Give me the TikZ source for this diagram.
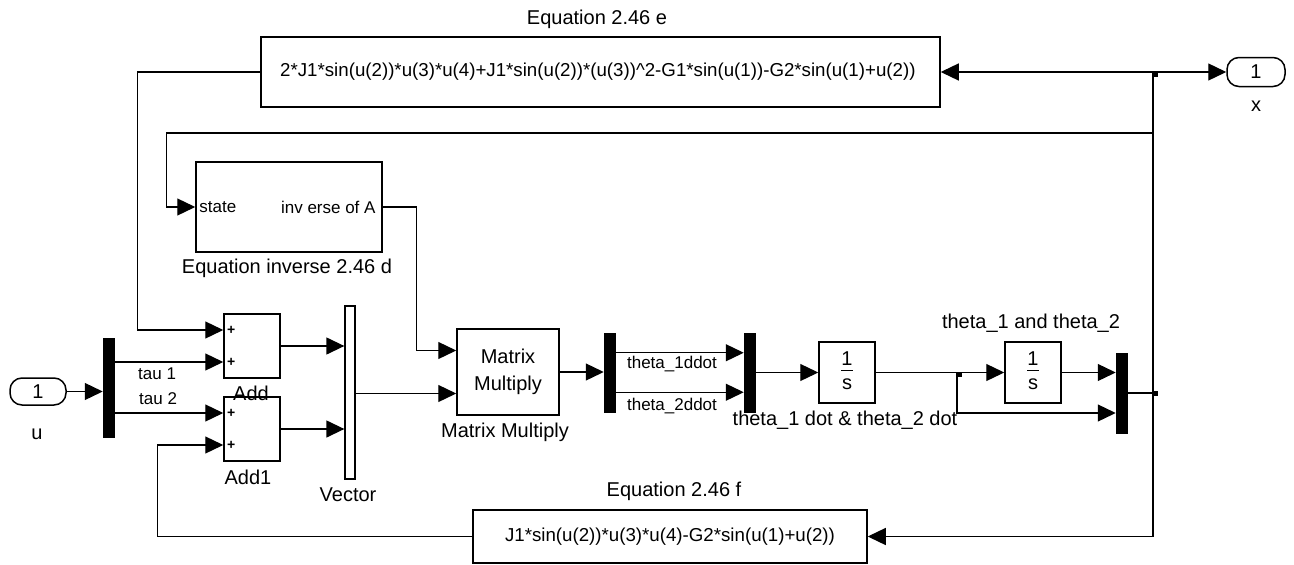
\documentclass[tikz,border=0pt]{standalone}
\usepackage{fontspec}
\setmainfont{Liberation Sans}
\usetikzlibrary{arrows.meta}
\begin{document}
\begin{tikzpicture}[x=1pt,y=-1pt,
  font=\fontsize{20}{25}\selectfont,
  blk/.style={draw, line width=1.5pt, fill=white, inner sep=0pt},
  bar/.style={fill=black, draw=black, line width=0.5pt, inner sep=0pt},
  wire/.style={line width=1.3pt},
  arr/.style={line width=1.3pt, -{Triangle[length=18pt,width=17pt]}},
  port/.style={draw, line width=1.5pt, rounded corners=12pt, inner sep=0pt},
  lbl/.style={inner sep=0pt},
  eqtxt/.style={inner sep=0pt, font=\fontsize{18.7}{22}\selectfont},
  small/.style={inner sep=0pt, font=\fontsize{17}{20}\selectfont},
  dotj/.style={fill=black, minimum size=5pt, inner sep=0pt}
]
\useasboundingbox (0,0) rectangle (1294,565);

% blocks
\node[blk, minimum width=679pt, minimum height=70pt] (eqE) at (600.5,72) {};
\node[eqtxt, anchor=west] (eqEtxt) at (280,72) {2*J1*sin(u(2))*u(3)*u(4)+J1*sin(u(2))*(u(3))\^{}2-G1*sin(u(1))-G2*sin(u(1)+u(2))};
\node[blk, minimum width=186pt, minimum height=90pt] (inv) at (289,207) {};
\node[small, anchor=west] (invst) at ([xshift=4pt]inv.west) {state};
\node[small, anchor=east] (invout) at ([xshift=-7pt]inv.east) {inv erse of A};
\node[blk, minimum width=56pt, minimum height=64pt] (add) at (252,346) {};
\node[blk, minimum width=56pt, minimum height=64pt] (add1) at (252,429) {};
\node[blk, minimum width=10pt, minimum height=173pt, line width=1.3pt] (vec) at (350,392.5) {};
\node[blk, minimum width=102pt, minimum height=86pt, align=center, font=\fontsize{20}{27}\selectfont] (mm) at (508,372) {Matrix\\Multiply};
\node[bar, minimum width=11pt, minimum height=99pt] (d1) at (108.5,387.5) {};
\node[bar, minimum width=11pt, minimum height=79pt] (d2) at (609.5,372.5) {};
\node[bar, minimum width=11pt, minimum height=79pt] (m2) at (749.5,372.5) {};
\node[blk, minimum width=56pt, minimum height=61pt] (i1) at (847,372.5) {};
\node[blk, minimum width=56pt, minimum height=61pt] (i2) at (1033,372.5) {};
\node[bar, minimum width=11pt, minimum height=80pt] (m3) at (1121.5,393) {};
\node[blk, minimum width=394pt, minimum height=53pt, font=\fontsize{18.7}{22}\selectfont] (eqF) at (670,536.5) {J1*sin(u(2))*u(3)*u(4)-G2*sin(u(1)+u(2))};
\node[port, minimum width=56pt, minimum height=27pt] (inU) at (38,391.5) {1};
\node[port, minimum width=58pt, minimum height=29pt] (outX) at (1256,72) {1};

% integrator contents
\node[lbl] (i1n) at ([yshift=14pt]i1.center) {1};
\node[lbl] (i1d) at ([yshift=-12pt]i1.center) {s};
\draw[line width=1.2pt] ([xshift=-6pt,yshift=2pt]i1.center) -- ([xshift=6pt,yshift=2pt]i1.center);
\node[lbl] (i2n) at ([yshift=14pt]i2.center) {1};
\node[lbl] (i2d) at ([yshift=-12pt]i2.center) {s};
\draw[line width=1.2pt] ([xshift=-6pt,yshift=2pt]i2.center) -- ([xshift=6pt,yshift=2pt]i2.center);

% port coordinates
\coordinate (a_i1) at ([yshift=16pt]add.west);
\coordinate (a_i2) at ([yshift=-16pt]add.west);
\coordinate (b_i1) at ([yshift=16pt]add1.west);
\coordinate (b_i2) at ([yshift=-16pt]add1.west);
\coordinate (mm_i1) at ([yshift=21.5pt]mm.west);
\coordinate (mm_i2) at ([yshift=-21.5pt]mm.west);
\coordinate (jT) at (1153,72);
\coordinate (jB) at (1153,133);
\coordinate (jI) at (957,372.5);

% plus signs
\node[lbl, font=\fontsize{14}{16}\selectfont\bfseries] (p1) at ([xshift=8pt]a_i1) {+};
\node[lbl, font=\fontsize{14}{16}\selectfont\bfseries] (p2) at ([xshift=8pt]a_i2) {+};
\node[lbl, font=\fontsize{14}{16}\selectfont\bfseries] (p3) at ([xshift=8pt]b_i1) {+};
\node[lbl, font=\fontsize{14}{16}\selectfont\bfseries] (p4) at ([xshift=8pt]b_i2) {+};

% labels
\node[lbl] (lE) at (597,19) {Equation 2.46 e};
\node[lbl] (lx) at (1256,106) {x};
\node[lbl] (lu) at (37,434) {u};
\node[lbl] (linv) at (287,268) {Equation inverse 2.46 d};
\node[small, anchor=west] (tau1) at (138,374) {tau 1};
\node[small, anchor=west] (tau2) at (139,399) {tau 2};
\node[lbl] (ladd) at (251,393) {Add};
\node[lbl] (ladd1) at (248,477) {Add1};
\node[lbl] (lvec) at (348,495) {Vector};
\node[lbl] (lmm) at (505,432) {Matrix Multiply};
\node[small] (t1dd) at (672,364) {theta\_1ddot};
\node[small] (t2dd) at (672,406) {theta\_2ddot};
\node[lbl] (lth) at (1031,323) {theta\_1 and theta\_2};
\node[lbl] (lthd) at (845,420) {theta\_1 dot \& theta\_2 dot};
\node[lbl] (lF) at (674,491) {Equation 2.46 f};

% wires
\draw[arr] (inU.east) -- (inU.east -| d1.west);
\draw[arr] (d1.east |- a_i2) -- (a_i2);
\draw[arr] (d1.east |- b_i1) -- (b_i1);
\draw[arr] (eqE.west) -| ([xshift=-86pt]a_i1) -- (a_i1);
\draw[arr] (eqF.west) -| ([xshift=-66pt]b_i2) -- (b_i2);
\draw[arr] (add.east) -- (add.east -| vec.west);
\draw[arr] (add1.east) -- (add1.east -| vec.west);
\draw[arr] (vec.east |- mm_i2) -- (mm_i2);
\draw[arr] (inv.east) -| ([xshift=-40pt]mm_i1) -- (mm_i1);
\draw[arr] (jB) -| ([xshift=-29pt]inv.west) -- (inv.west);
\draw[arr] (mm.east) -- (mm.east -| d2.west);
\draw[arr] ([yshift=19.75pt]d2.east) -- ([yshift=19.75pt]m2.west);
\draw[arr] ([yshift=-19.75pt]d2.east) -- ([yshift=-19.75pt]m2.west);
\draw[arr] (m2.east) -- (i1.west);
\draw[wire] (i1.east) -- (jI);
\draw[arr] (jI) -- (i2.west);
\draw[arr] (i2.east) -- (i2.east -| m3.west);
\draw[arr] (jI) |- ([yshift=-20pt]m3.west);
\draw[wire] (m3.east) -- (m3.east -| jT);
\draw[wire] (jT) -- (jB);
\draw[arr] (jT) -- (eqE.east);
\draw[arr] (jT) -- (outX.west);
\draw[arr] (jT) |- (eqF.east);

% junction dots
\node[dotj] (dT) at ([xshift=2pt,yshift=-2pt]jT) {};
\node[dotj] (dR) at ([xshift=2pt]m3.east -| jT) {};
\node[dotj] (dI) at ([xshift=2pt,yshift=-2pt]jI) {};
\end{tikzpicture}
\end{document}
